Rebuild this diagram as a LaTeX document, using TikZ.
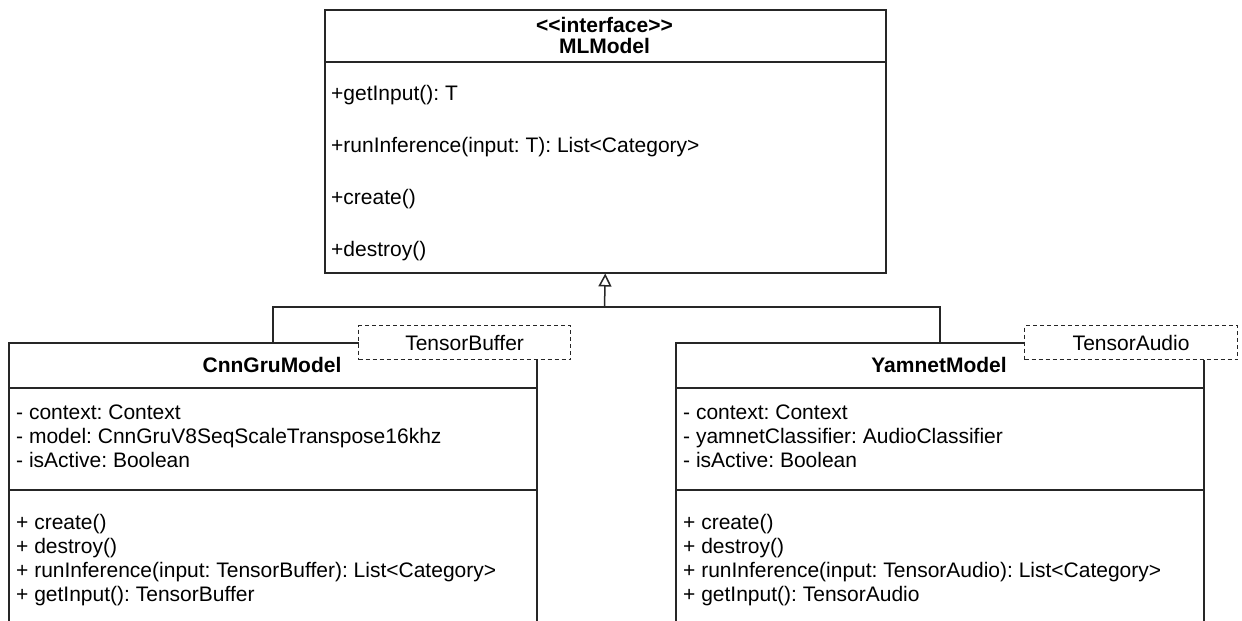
\documentclass[tikz,border=0pt]{standalone}
\usepackage{fontspec}
\setmainfont{Liberation Sans}
\usetikzlibrary{arrows.meta}
\frenchspacing
\begin{document}
\begin{tikzpicture}[x=1pt,y=-1pt,
  uml/.style={draw=black!85, line width=1.5pt, fill=white, inner sep=0pt, anchor=north west},
  tag/.style={draw=black!85, line width=1.2pt, dash pattern=on 4pt off 3pt, fill=white,
              inner sep=0pt, anchor=north west, font=\fontsize{21}{24}\selectfont},
  member/.style={anchor=base west, inner sep=0pt, font=\fontsize{21}{24}\selectfont},
  classname/.style={inner sep=0pt, font=\fontsize{21}{21}\selectfont\bfseries},
  rule/.style={draw=black!85, line width=1.5pt},
  link/.style={draw=black!85, line width=1.5pt}]
\clip (0,0) rectangle (1242,621);
\fill[white] (0,0) rectangle (1242,621);

% ---------- interface MLModel ----------
\node[uml, minimum width=561pt, minimum height=263pt] (ml) at (324,9) {};
\draw[rule] ([yshift=-53pt]ml.north west) -- ([yshift=-53pt]ml.north east);
\node[classname, align=center] (mlname) at (604.5,35.5) {<\kern0pt<interface>\kern0pt>\\MLModel};
\node[member] (mlm1) at (331,100.5) {+getInput(): T};
\node[member] (mlm2) at (331,152.5) {+runInference(input: T): List<Category>};
\node[member] (mlm3) at (331,204.5) {+create()};
\node[member] (mlm4) at (331,256.5) {+destroy()};

% ---------- class CnnGruModel ----------
\node[uml, minimum width=528pt, minimum height=300pt] (cg) at (8,342) {};
\draw[rule] ([yshift=-46pt]cg.north west) -- ([yshift=-46pt]cg.north east);
\draw[rule] ([yshift=-148pt]cg.north west) -- ([yshift=-148pt]cg.north east);
\node[classname] (cgname) at (272,365) {CnnGruModel};
\node[member] (cga1) at (16,419.5) {- context: Context};
\node[member] (cga2) at (16,443.5) {- model: CnnGruV8SeqScaleTranspose16khz};
\node[member] (cga3) at (16,467.5) {- isActive: Boolean};
\node[member] (cgm1) at (16,529.5) {+ create()};
\node[member] (cgm2) at (16,553.5) {+ destroy()};
\node[member] (cgm3) at (16,577.5) {+ runInference(input: TensorBuffer): List<Category>};
\node[member] (cgm4) at (16,601.5) {+ getInput(): TensorBuffer};

% ---------- class YamnetModel ----------
\node[uml, minimum width=528pt, minimum height=300pt] (ym) at (675,342) {};
\draw[rule] ([yshift=-46pt]ym.north west) -- ([yshift=-46pt]ym.north east);
\draw[rule] ([yshift=-148pt]ym.north west) -- ([yshift=-148pt]ym.north east);
\node[classname] (ymname) at (939,365) {YamnetModel};
\node[member] (yma1) at (683,419.5) {- context: Context};
\node[member] (yma2) at (683,443.5) {- yamnetClassifier: AudioClassifier};
\node[member] (yma3) at (683,467.5) {- isActive: Boolean};
\node[member] (ymm1) at (683,529.5) {+ create()};
\node[member] (ymm2) at (683,553.5) {+ destroy()};
\node[member] (ymm3) at (683,577.5) {+ runInference(input: TensorAudio): List<Category>};
\node[member] (ymm4) at (683,601.5) {+ getInput(): TensorAudio};

% ---------- generalisation ----------
\coordinate (junction) at (604.5,307);
\draw[link] (cg.north) |- (junction) -| (ym.north);
\draw[link, -{Triangle[open, length=13pt, width=13pt]}] (junction) -- (ml.south);

% ---------- template parameters ----------
\node[tag, minimum width=212pt, minimum height=34pt] (tb) at (358,325) {TensorBuffer};
\node[tag, minimum width=213pt, minimum height=34pt] (ta) at (1024,325) {TensorAudio};
\end{tikzpicture}
\end{document}
